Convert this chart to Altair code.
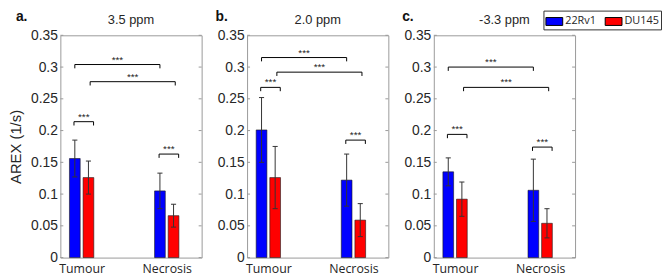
import altair as alt
import pandas as pd

groups = ["Tumour", "Necrosis"]
cells = ["22Rv1", "DU145"]
cell_colors = ["#0000ff", "#ff0000"]
panel_titles = ["3.5 ppm", "2.0 ppm", "-3.3 ppm"]
panel_letters = ["a.", "b.", "c."]
letter_dx = [-45, -32, -32]

# order: Tumour-22Rv1, Tumour-DU145, Necrosis-22Rv1, Necrosis-DU145
mean_35 = [0.156, 0.126, 0.105, 0.066]
err_35 = [0.029, 0.026, 0.028, 0.018]
mean_20 = [0.201, 0.126, 0.122, 0.059]
err_20 = [0.051, 0.049, 0.041, 0.026]
mean_m33 = [0.135, 0.092, 0.106, 0.054]
err_m33 = [0.022, 0.027, 0.049, 0.023]

# significance brackets: cross-blue, cross-red, tumour pair, necrosis pair
bracket_x_start = [0.92, 1.10, 0.91, 1.91]
bracket_x_end = [1.92, 2.10, 1.14, 2.14]
bracket_y_35 = [0.304, 0.277, 0.214, 0.163]
bracket_y_20 = [0.315, 0.292, 0.268, 0.185]
bracket_y_m33 = [0.300, 0.268, 0.194, 0.174]
bracket_label = "***"

y_ticks = [0, 0.05, 0.1, 0.15, 0.2, 0.25, 0.3, 0.35]

means = [mean_35, mean_20, mean_m33]
errs = [err_35, err_20, err_m33]
bracket_ys = [bracket_y_35, bracket_y_20, bracket_y_m33]

W, H = 143, 225
offset = 0.08
half_bar = 0.063
half_cap = 0.03
drop = 0.006

xscale = alt.Scale(domain=[0.75, 2.41], nice=False, zero=False)
yscale = alt.Scale(domain=[0, 0.35], nice=False, zero=True)

AXIS_FONT = "Liberation Sans"
TXT = "#262626"


def make_panel(i):
    rows = []
    k = 0
    for gi, g in enumerate(groups):
        for ci, c in enumerate(cells):
            xc = gi + 1 + (-offset if ci == 0 else offset)
            m = means[i][k]
            e = errs[i][k]
            rows.append(dict(group=g, cell=c, xc=xc, x0=xc - half_bar, x1=xc + half_bar,
                             c0=xc - half_cap, c1=xc + half_cap,
                             mean=m, lo=m - e, hi=m + e))
            k += 1
    df = pd.DataFrame(rows)

    bdf = pd.DataFrame(dict(bx0=bracket_x_start, bx1=bracket_x_end, by=bracket_ys[i]))
    bdf["blow"] = bdf["by"] - drop
    bdf["bmid"] = (bdf["bx0"] + bdf["bx1"]) / 2

    tdf = pd.DataFrame(dict(t=y_ticks))

    xaxis = alt.Axis(values=[1, 2], labelExpr="datum.value == 1 ? 'Tumour' : 'Necrosis'",
                     title=None, labelFont="Open Sans", labelFontSize=12.5, labelColor=TXT,
                     labelPadding=5, ticks=False, domain=False, grid=False)
    yaxis = alt.Axis(values=y_ticks, format="~g", title="AREX (1/s)" if i == 0 else None,
                     titleFont=AXIS_FONT, titleFontSize=15, titleFontWeight="normal",
                     titleColor=TXT, titlePadding=7, labelOverlap=False,
                     labelFont=AXIS_FONT, labelFontSize=14, labelColor=TXT, labelPadding=3,
                     ticks=False, domain=False, grid=False)

    def X(f):
        return alt.X(f, scale=xscale, axis=xaxis)

    def Y(f):
        return alt.Y(f, scale=yscale, axis=yaxis)

    bars = alt.Chart(df).mark_bar(stroke="#1a1a1a", strokeWidth=0.6).encode(
        x=X("x0:Q"),
        x2="x1:Q",
        y=Y("mean:Q"),
        y2=alt.datum(0),
        color=alt.Color("cell:N", scale=alt.Scale(domain=cells, range=cell_colors),
                        legend=alt.Legend(
                            title=None, orient="none", legendX=489, legendY=-25,
                            direction="horizontal", columns=2,
                            symbolType="M-1,-0.47L1,-0.47L1,0.47L-1,0.47Z", symbolSize=289,
                            symbolStrokeColor="black", symbolStrokeWidth=1,
                            symbolOpacity=1, labelFont="Open Sans", labelFontSize=11,
                            labelColor=TXT, labelOffset=2, columnPadding=6,
                            padding=2, strokeColor="#333", fillColor="white")),
    )
    err_line = alt.Chart(df).mark_rule(color="#333", strokeWidth=1).encode(
        x=X("xc:Q"), y=Y("lo:Q"), y2="hi:Q")
    cap_hi = alt.Chart(df).mark_rule(color="#333", strokeWidth=1).encode(
        x=X("c0:Q"), x2="c1:Q", y=Y("hi:Q"))
    cap_lo = alt.Chart(df).mark_rule(color="#333", strokeWidth=1).encode(
        x=X("c0:Q"), x2="c1:Q", y=Y("lo:Q"))

    b_h = alt.Chart(bdf).mark_rule(color="black", strokeWidth=1).encode(
        x=X("bx0:Q"), x2="bx1:Q", y=Y("by:Q"))
    b_l = alt.Chart(bdf).mark_rule(color="black", strokeWidth=1).encode(
        x=X("bx0:Q"), y=Y("by:Q"), y2="blow:Q")
    b_r = alt.Chart(bdf).mark_rule(color="black", strokeWidth=1).encode(
        x=X("bx1:Q"), y=Y("by:Q"), y2="blow:Q")
    stars = alt.Chart(bdf).mark_text(text=bracket_label, fontSize=10, font=AXIS_FONT,
                                     color="#222", baseline="alphabetic", dy=-2).encode(
        x=X("bmid:Q"), y=Y("by:Q"))

    tick_l = alt.Chart(tdf).mark_rule(color="#999").encode(
        y=Y("t:Q"), x=alt.value(0), x2=alt.value(3))
    tick_r = alt.Chart(tdf).mark_rule(color="#999").encode(
        y=Y("t:Q"), x=alt.value(W - 3), x2=alt.value(W))

    one = pd.DataFrame(dict(lab=[panel_letters[i]], ttl=[panel_titles[i]]))
    letter = alt.Chart(one).mark_text(
        font=AXIS_FONT, fontSize=14, fontWeight="bold", color="#111",
        align="left", baseline="middle").encode(
        text="lab:N", x=alt.value(letter_dx[i]), y=alt.value(-18))
    title = alt.Chart(one).mark_text(
        font=AXIS_FONT, fontSize=13, color=TXT,
        align="center", baseline="middle").encode(
        text="ttl:N", x=alt.value(W / 2), y=alt.value(-15))

    return alt.layer(bars, err_line, cap_hi, cap_lo, b_h, b_l, b_r, stars,
                     tick_l, tick_r, letter, title).properties(width=W, height=H)


chart = alt.hconcat(*[make_panel(i) for i in range(3)], spacing=46,
                    bounds="flush").properties(padding=0, background="white").configure_view(
    stroke="#999", strokeWidth=1)

chart.save("out.html", embed_options={"renderer": "svg", "actions": False})
